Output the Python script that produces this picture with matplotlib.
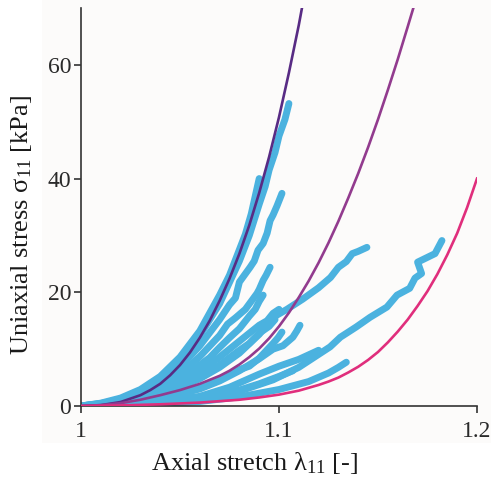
import matplotlib
matplotlib.use('Agg')
import matplotlib.pyplot as plt
from matplotlib.patches import Rectangle

plt.rcParams['font.family'] = ['Liberation Serif', 'DejaVu Serif']
plt.rcParams['mathtext.fontset'] = 'custom'
plt.rcParams['mathtext.rm'] = 'Liberation Serif'
plt.rcParams['mathtext.it'] = 'Liberation Serif:italic'

# model curves (stretch, stress in kPa)
model_a_lam = [1.00, 1.01, 1.02, 1.03, 1.035, 1.04, 1.045, 1.05, 1.055, 1.06, 1.065, 1.07,
               1.075, 1.08, 1.085, 1.09, 1.095, 1.10, 1.105, 1.11, 1.1116]
model_a_sig = [0, 0.15, 0.7, 1.9, 2.8, 3.9, 5.4, 7.2, 9.4, 12.0, 15.0, 18.5,
               22.4, 26.8, 31.8, 37.5, 43.8, 50.8, 58.6, 67.0, 70.0]
model_b_lam = [1.00, 1.01, 1.02, 1.03, 1.04, 1.05, 1.06, 1.07, 1.075, 1.08, 1.085, 1.09,
               1.095, 1.10, 1.105, 1.11, 1.115, 1.12, 1.125, 1.13, 1.135, 1.14,
               1.145, 1.15, 1.155, 1.16, 1.165, 1.1682]
model_b_sig = [0, 0.15, 0.5, 1.1, 1.9, 2.8, 3.9, 5.3, 6.2, 7.3, 8.6, 10.1,
               11.9, 14.0, 16.4, 19.1, 22.0, 25.2, 28.7, 32.5, 36.6, 40.9,
               45.5, 50.4, 55.6, 61.0, 66.7, 70.4]
model_c_lam = [1.00, 1.02, 1.04, 1.06, 1.08, 1.09, 1.10, 1.11, 1.12, 1.125, 1.13, 1.135,
               1.14, 1.145, 1.15, 1.155, 1.16, 1.165, 1.17, 1.175, 1.18, 1.185, 1.19, 1.195, 1.20]
model_c_sig = [0, 0.1, 0.3, 0.6, 1.1, 1.5, 2.0, 2.7, 3.7, 4.3, 5.0, 5.9,
               6.9, 8.1, 9.5, 11.2, 13.1, 15.2, 17.6, 20.2, 23.2, 26.6, 30.4, 34.9, 40.0]

# measured specimens
s00_lam = [1.00, 1.01, 1.02, 1.03, 1.04, 1.05, 1.06, 1.07, 1.075, 1.08, 1.083, 1.086, 1.09]
s00_sig = [0, 0.5, 1.4, 2.9, 5.2, 8.6, 13.2, 19.5, 23.0, 27.5, 30.2, 33.8, 40.0]
s01_lam = [1.00, 1.01, 1.02, 1.03, 1.04, 1.05, 1.06, 1.07, 1.08, 1.085, 1.09, 1.093,
           1.095, 1.098, 1.10, 1.103, 1.105]
s01_sig = [0, 0.4, 1.2, 2.6, 4.8, 8.0, 12.4, 18.0, 25.5, 30.0, 35.5, 38.6,
           41.5, 44.6, 47.5, 50.4, 53.2]
s02_lam = [1.00, 1.02, 1.03, 1.04, 1.05, 1.06, 1.07, 1.075, 1.078, 1.080, 1.0854, 1.0875,
           1.0894, 1.092, 1.094, 1.0955, 1.097, 1.099, 1.1015]
s02_sig = [0, 0.9, 2.1, 4.0, 6.8, 10.6, 15.2, 17.8, 19.0, 21.8, 24.4, 25.5,
           27.4, 28.6, 30.4, 32.6, 33.6, 35.2, 37.4]
s03_lam = [1.00, 1.02, 1.03, 1.04, 1.05, 1.06, 1.07, 1.074, 1.078, 1.083, 1.0889, 1.090,
           1.092, 1.0935, 1.0955]
s03_sig = [0, 0.7, 1.7, 3.3, 5.6, 8.7, 12.4, 14.4, 15.5, 17.0, 19.8, 20.5,
           22.1, 23.0, 24.4]
s04_lam = [1.00, 1.02, 1.03, 1.04, 1.05, 1.06, 1.065, 1.07, 1.075, 1.08, 1.085, 1.088,
           1.090, 1.092]
s04_sig = [0, 0.6, 1.4, 2.7, 4.6, 7.2, 8.5, 10.3, 12.0, 13.6, 15.8, 17.0,
           18.4, 19.5]
s05_lam = [1.00, 1.02, 1.04, 1.06, 1.07, 1.08, 1.09, 1.097, 1.104, 1.112, 1.12, 1.126,
           1.130, 1.134, 1.137, 1.140, 1.1444]
s05_sig = [0, 0.5, 2.0, 4.8, 6.8, 9.3, 12.6, 15.6, 17.0, 18.8, 20.8, 22.6,
           24.4, 25.4, 26.8, 27.2, 27.9]
s06_lam = [1.00, 1.02, 1.04, 1.06, 1.07, 1.08, 1.09, 1.097, 1.102, 1.107, 1.109, 1.1106]
s06_sig = [0, 0.3, 1.2, 3.0, 4.4, 6.2, 8.3, 10.0, 10.6, 12.1, 13.2, 14.2]
s07_lam = [1.00, 1.02, 1.04, 1.06, 1.07, 1.08, 1.085, 1.09, 1.097, 1.0995, 1.1015]
s07_sig = [0, 0.3, 1.3, 3.2, 4.6, 6.4, 7.0, 8.4, 11.0, 12.0, 13.0]
s08_lam = [1.00, 1.02, 1.04, 1.06, 1.08, 1.097, 1.11, 1.1258, 1.131, 1.139, 1.146, 1.1545,
           1.1596, 1.166, 1.1687, 1.172, 1.170, 1.1788, 1.1823]
s08_sig = [0, 0.15, 0.5, 1.2, 2.6, 4.6, 6.8, 10.4, 12.1, 13.9, 15.6, 17.4,
           19.5, 20.7, 22.5, 23.3, 25.3, 26.8, 29.1]
s09_lam = [1.00, 1.02, 1.04, 1.06, 1.08, 1.10, 1.115, 1.125, 1.13, 1.134]
s09_sig = [0, 0.1, 0.35, 0.8, 1.6, 2.9, 4.3, 5.8, 6.8, 7.7]
s10_lam = [1.00, 1.02, 1.04, 1.06, 1.075, 1.09, 1.10, 1.11, 1.12]
s10_sig = [0, 0.2, 0.7, 1.7, 3.3, 5.6, 7.0, 8.2, 9.8]
s11_lam = [1.00, 1.02, 1.04, 1.06, 1.08, 1.09, 1.10, 1.107]
s11_sig = [0, 0.2, 0.6, 1.4, 2.8, 3.9, 5.2, 6.2]
s12_lam = [1.00, 1.02, 1.04, 1.06, 1.07, 1.08, 1.085, 1.09, 1.095, 1.098]
s12_sig = [0, 0.5, 2.0, 5.0, 7.2, 9.8, 11.0, 12.8, 14.0, 15.2]
s13_lam = [1.00, 1.02, 1.04, 1.06, 1.07, 1.08, 1.09, 1.094, 1.097, 1.10]
s13_sig = [0, 0.6, 2.4, 6.0, 8.6, 11.4, 14.2, 15.0, 16.3, 17.0]

specimens = [(s00_lam, s00_sig), (s01_lam, s01_sig), (s02_lam, s02_sig), (s03_lam, s03_sig),
             (s04_lam, s04_sig), (s05_lam, s05_sig), (s06_lam, s06_sig), (s07_lam, s07_sig),
             (s08_lam, s08_sig), (s09_lam, s09_sig), (s10_lam, s10_sig), (s11_lam, s11_sig),
             (s12_lam, s12_sig), (s13_lam, s13_sig)]

fig = plt.figure(figsize=(4.91, 4.83), dpi=100)
fig.patch.set_facecolor('white')
fig.patches.append(Rectangle((42 / 491, 40 / 483), 1 - 42 / 491, 1 - 40 / 483,
                             transform=fig.transFigure, facecolor='#fcfbfa',
                             edgecolor='none', zorder=-10))
ax = fig.add_axes([81 / 491, 77 / 483, 396 / 491, 398 / 483])
ax.set_facecolor('none')

for lam, sig in specimens:
    ax.plot(lam, sig, color='#4bb2df', lw=5, solid_capstyle='round',
            solid_joinstyle='round', zorder=2)

ax.plot(model_a_lam, model_a_sig, color='#582b84', lw=1.9, zorder=3)
ax.plot(model_b_lam, model_b_sig, color='#923b8e', lw=1.9, zorder=3)
ax.plot(model_c_lam, model_c_sig, color='#e02e7c', lw=1.9, zorder=3)

ax.set_xlim(1.0, 1.2)
ax.set_ylim(0, 70)
ax.set_xticks([1.0, 1.1, 1.2])
ax.set_xticklabels(['1', '1.1', '1.2'])
ax.set_yticks([0, 20, 40, 60])

for side in ['top', 'right']:
    ax.spines[side].set_visible(False)
for side in ['left', 'bottom']:
    ax.spines[side].set_color('#333333')
    ax.spines[side].set_linewidth(1.2)
ax.tick_params(axis='both', colors='#333333', length=5, width=1.2, labelsize=17,
               labelcolor='#2a2a2a')
ax.tick_params(axis='x', pad=6)
ax.tick_params(axis='y', pad=2)

ax.set_xlabel('Axial stretch λ$_{11}$ [-]', fontsize=19, color='#1a1a1a', va='center')
ax.xaxis.set_label_coords(0.437, -0.143)
ax.set_ylabel('Uniaxial stress σ$_{11}$ [kPa]', fontsize=19, color='#1a1a1a', va='center')
ax.yaxis.set_label_coords(-0.149, 0.455)

fig.savefig('out.png', dpi=100)
